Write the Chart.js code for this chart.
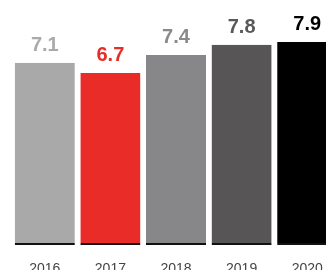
<!DOCTYPE html>
<html>
<head>
<meta charset="utf-8">
<script src="https://cdn.jsdelivr.net/npm/chart.js@4/dist/chart.umd.min.js"></script>
<style>
  html, body { margin: 0; padding: 0; background: #fff; overflow: hidden; }
  #wrap { width: 345px; height: 285px; }
</style>
</head>
<body>
<div id="wrap"><canvas id="chart"></canvas></div>
<script>
const years = ['2016', '2017', '2018', '2019', '2020'];
const scores = [7.1, 6.7, 7.4, 7.8, 7.9];

const barColors = ['#a9a9a9', '#e92c27', '#87878a', '#575556', '#000000'];
const labelColors = ['#aaaaaa', '#e82c27', '#8a8a8a', '#58585a', '#000000'];

// 棒の上に値を描く
const valueLabels = {
  id: 'valueLabels',
  afterDatasetsDraw(chart) {
    const ctx = chart.ctx;
    const meta = chart.getDatasetMeta(0);
    ctx.save();
    ctx.font = 'bold 20px "Liberation Sans", Arial, sans-serif';
    ctx.textAlign = 'center';
    ctx.textBaseline = 'alphabetic';
    meta.data.forEach((bar, i) => {
      ctx.fillStyle = labelColors[i];
      ctx.fillText(scores[i].toFixed(1), bar.x, bar.y - 12);
    });
    ctx.restore();
  }
};

const ctx = document.getElementById('chart').getContext('2d');
new Chart(ctx, {
  type: 'bar',
  data: {
    labels: years,
    datasets: [{
      data: scores,
      backgroundColor: barColors,
      borderColor: '#111111',
      borderWidth: { top: 0, left: 0, right: 0, bottom: 2 },
      borderSkipped: false,
      barPercentage: 0.916,
      categoryPercentage: 1
    }]
  },
  options: {
    responsive: true,
    maintainAspectRatio: false,
    animation: false,
    layout: { padding: { left: 12, right: 5, top: 1, bottom: 0 } },
    plugins: {
      legend: { display: false },
      tooltip: { enabled: false }
    },
    scales: {
      x: {
        grid: { display: false, drawTicks: false },
        border: { display: false },
        ticks: {
          color: '#444444',
          padding: 16,
          font: { family: '"Liberation Sans", Arial, sans-serif', size: 14 }
        },
        afterFit(scale) { scale.height = 40; }
      },
      y: {
        display: false,
        min: 0,
        max: 9.5
      }
    }
  },
  plugins: [valueLabels]
});
</script>
</body>
</html>
